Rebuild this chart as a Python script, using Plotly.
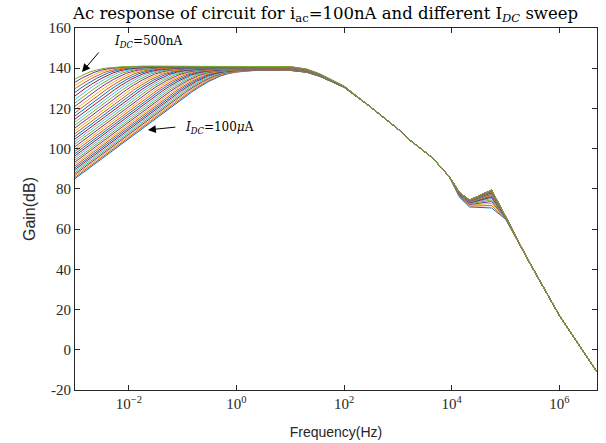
import plotly.graph_objects as go

# ---- data -------------------------------------------------------------
# Rising edge of the 100 uA curve (lowest curve), Hz / dB
rise_freq_hz = [1e-3, 2e-3, 5e-3, 1e-2, 2e-2, 5e-2, 0.1, 0.15, 0.2, 0.3,
                0.5, 0.7, 1, 1.5, 2, 3, 5]
rise_gain_db = [85.1, 91.1, 99.1, 105.1, 111.1, 119.1, 125.0, 128.3, 130.5,
                133.3, 136.1, 137.3, 138.1, 138.6, 138.8, 139.0, 139.1]

# Per-curve shift of the low-frequency corner (decades to the left of the
# 100 uA curve); index 0 = I_DC 100 uA ... index 39 = I_DC 500 nA
corner_shift_dec = [0.000, 0.033, 0.068, 0.104, 0.141, 0.181, 0.221, 0.264,
                    0.308, 0.353, 0.400, 0.448, 0.499, 0.550, 0.603, 0.658,
                    0.714, 0.772, 0.832, 0.893, 0.955, 1.019, 1.085, 1.152,
                    1.221, 1.291, 1.363, 1.436, 1.511, 1.587, 1.665, 1.745,
                    1.826, 1.909, 1.993, 2.079, 2.166, 2.255, 2.346, 2.438]

# Mid-band level of each curve above the 100 uA curve (dB)
midband_lift_db = [0.00, 0.03, 0.05, 0.08, 0.11, 0.14, 0.17, 0.21, 0.24, 0.27,
                   0.31, 0.35, 0.39, 0.43, 0.47, 0.51, 0.56, 0.60, 0.65, 0.70,
                   0.74, 0.79, 0.85, 0.90, 0.95, 1.01, 1.06, 1.12, 1.18, 1.24,
                   1.30, 1.36, 1.42, 1.49, 1.55, 1.62, 1.69, 1.76, 1.83, 1.90]

# Shoulder where the curves start to roll off (100 uA curve values)
shoulder_freq_hz = [10, 20, 35, 60, 100]
shoulder_gain_db = [138.9, 138.0, 136.0, 133.3, 130.5]
shoulder_lift_share = [1.0, 0.85, 0.65, 0.45, 0.3]

# High-frequency roll-off shared by the sweep (undisturbed curve)
rolloff_freq_hz = [300, 1000, 1660, 4400, 9100, 1.38e4, 2.14e4, 5.5e4,
                   1e5, 2.5e5, 1e6, 5e6]
rolloff_gain_db = [121.0, 109.8, 104.3, 95.4, 85.9, 78.3, 74.4, 79.4,
                   66.3, 45.6, 17.0, -11.0]
# how much of each curve's resonance drop applies at each roll-off point
bump_drop_share = [0, 0, 0, 0, 0, 0.26, 0.38, 1.0, 0.15, 0, 0, 0]

# Drop of the 55 kHz resonance peak for each curve (dB)
bump_drop_db = [8.9, 7.7, 6.6, 5.7, 4.9, 4.2, 3.6, 3.1, 2.7, 2.3,
                2.0, 1.7, 1.45, 1.25, 1.05, 0.9, 0.75, 0.65, 0.55, 0.45,
                0.38, 0.32, 0.27, 0.22, 0.18, 0.15, 0.12, 0.10, 0.08, 0.06,
                0.05, 0.04, 0.03, 0.02, 0.02, 0.01, 0.01, 0.0, 0.0, 0.0]

y_ticks = [-20, 0, 20, 40, 60, 80, 100, 120, 140, 160]
y_tick_text = ["-20", "0", "20", "40", "60", "80", "100", "120", "140", "160"]
x_tick_vals = [1e-2, 1e0, 1e2, 1e4, 1e6]
x_tick_text = ["10<sup>\u22122</sup>", "10<sup>0</sup>", "10<sup>2</sup>",
               "10<sup>4</sup>", "10<sup>6</sup>"]

palette = ["#0072BD", "#D95319", "#EDB120", "#7E2F8E",
           "#77AC30", "#4DBEEE", "#A2142F"]

# ---- figure -----------------------------------------------------------
fig = go.Figure()

for i, shift in enumerate(corner_shift_dec):
    lift = midband_lift_db[i]
    drop = bump_drop_db[i]
    xs = [f / 10 ** shift for f in rise_freq_hz]
    ys = [g + lift for g in rise_gain_db]
    xs += shoulder_freq_hz
    ys += [g + lift * w for g, w in zip(shoulder_gain_db, shoulder_lift_share)]
    xs += rolloff_freq_hz
    ys += [g - drop * w for g, w in zip(rolloff_gain_db, bump_drop_share)]
    fig.add_trace(go.Scatter(
        x=xs, y=ys, mode="lines",
        line=dict(color=palette[i % len(palette)], width=1),
        showlegend=False, hoverinfo="skip"))

serif = "Liberation Serif"
title_serif = "DejaVu Serif"
sans = "Liberation Sans"

axis_common = dict(
    showline=True, linecolor="#262626", linewidth=1, mirror="ticks",
    ticks="inside", ticklen=5, tickcolor="#262626", tickwidth=1,
    showgrid=False, zeroline=False, automargin=False,
    tickfont=dict(family=serif, size=15, color="#262626"),
)

fig.update_xaxes(
    type="log", range=[-3, 6.699],
    tickvals=x_tick_vals, ticktext=x_tick_text,
    title=dict(text="Frequency(Hz)", font=dict(family=sans, size=14, color="#262626"),
               standoff=16),
    **axis_common)
fig.update_yaxes(
    range=[-20, 160], tickvals=y_ticks, ticktext=y_tick_text,
    title=dict(text="Gain(dB)", font=dict(family=sans, size=16, color="#262626"),
               standoff=8),
    **axis_common)

# arrows and labels for the two ends of the sweep
fig.add_annotation(x=-2.87, y=138.1, xref="x", yref="y", text="",
                   showarrow=True, arrowhead=2, arrowsize=1.6, arrowwidth=1,
                   arrowcolor="black", ax=18, ay=-21)
fig.add_annotation(x=-2.31, y=153.0, xref="x", yref="y",
                   text="<i>I</i><sub><i>DC</i></sub>=500nA",
                   showarrow=False, xanchor="left", yanchor="middle",
                   font=dict(family=title_serif, size=12, color="black"))
fig.add_annotation(x=-1.646, y=109.3, xref="x", yref="y", text="",
                   showarrow=True, arrowhead=2, arrowsize=1.6, arrowwidth=1,
                   arrowcolor="black", ax=29, ay=-3)
fig.add_annotation(x=-0.996, y=110.3, xref="x", yref="y",
                   text="<i>I</i><sub><i>DC</i></sub>=100<i>\u03bc</i>A",
                   showarrow=False, xanchor="left", yanchor="middle",
                   font=dict(family=title_serif, size=12, color="black"))

fig.update_layout(
    width=606, height=443, autosize=False,
    margin=dict(l=75, r=9, t=28, b=53),
    paper_bgcolor="white", plot_bgcolor="white",
    title=dict(text="Ac response of circuit for i<sub>ac</sub>=100nA and different I<sub><i>DC</i></sub> sweep",
               x=73 / 606, xref="container", xanchor="left",
               y=1 - 13 / 443, yanchor="middle",
               font=dict(family=title_serif, size=16.5, color="black")),
)

fig.write_html("out.html")
